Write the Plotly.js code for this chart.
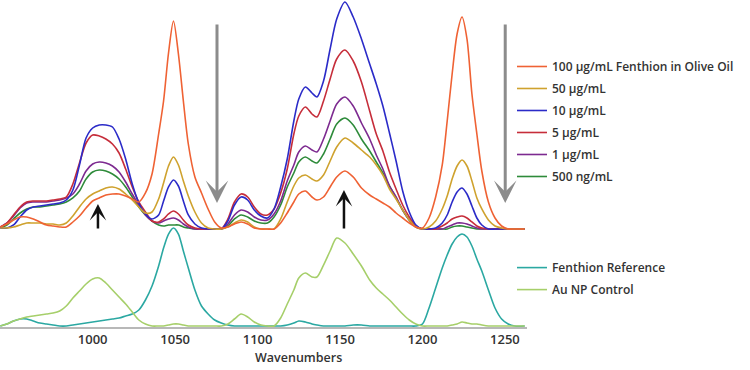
<!DOCTYPE html>
<html>
<head>
<meta charset="utf-8">
<script src="https://cdn.plot.ly/plotly-3.0.1.min.js"></script>
<style>html,body{margin:0;padding:0;background:#fff;}#chart{width:750px;height:370px;}</style>
</head>
<body>
<div id="chart"></div>
<script>
// Wavenumber grid (cm-1)
const wavenumbers = [944,948,952,956,960,964,968,972,976,980,984,988,992,996,1000,1004,1008,1012,1016,1020,1024,1028,1032,1036,1040,1043,1046,1049,1052,1055,1058,1062,1066,1070,1074,1078,1082,1086,1090,1094,1098,1102,1106,1110,1114,1118,1122,1125,1129,1133,1136,1140,1144,1148,1153,1158,1163,1168,1172,1176,1180,1184,1188,1192,1196,1200,1204,1208,1212,1215,1218,1221,1224,1227,1230,1233,1236,1240,1244,1248,1252,1256,1262];

// Upper panel: fenthion in olive oil, SERS intensity (arb.)
const fen100ug = [2,5,9,12,12,10,7,4,3,2,2,7,13,21,28,31,34,35,35,33,30,27,36,55,95,128,176,208,175,128,85,52,36,20,7,1,2,5,7,5,1,0,0,0,6,16,27,35,38,32,29,32,42,52,58,52,41,34,30,26,22,16,11,6,2,1,11,32,64,108,155,195,212,190,135,95,58,27,11,3,0,0,0];
const fen50ug  = [1,1,2,4,6,6,6,5,5,4,6,13,22,30,35,38,41,42,40,35,29,22,16,17,30,46,63,72,64,48,33,17,6,1,0,0,2,6,9,7,2,0,0,0,10,27,43,51,54,50,48,54,68,82,91,86,79,72,64,54,40,30,19,9,2,0,2,8,20,33,50,63,69,63,48,31,20,9,3,1,0,0,0];
const fen10ug  = [1,1,4,12,19,22,23,24,25,26,29,39,64,91,101,104,104,102,90,70,45,26,15,10,14,28,42,49,43,28,14,5,1,0,0,0,8,24,32,29,19,13,11,20,42,70,108,130,142,136,132,148,180,210,227,212,190,165,145,123,96,68,38,17,4,0,0,1,6,14,27,37,41,35,23,11,4,0,0,0,0,0,0];
const fen5ug   = [2,6,14,22,27,28,28,28,29,30,32,45,66,86,94,93,90,85,76,60,42,27,17,8,7,10,15,18,15,9,4,1,0,0,0,0,10,27,35,32,22,15,14,20,36,60,95,113,122,115,112,128,150,170,179,168,147,118,95,78,57,40,24,12,3,0,0,0,3,6,10,12,13,11,7,3,1,0,0,0,0,0,0];
const fen1ug   = [2,6,13,21,26,27,27,27,28,29,31,35,45,58,65,67,66,63,57,47,35,24,14,8,6,8,10,11,9,5,2,0,0,0,0,0,5,14,19,17,12,9,9,15,28,48,64,77,83,79,77,90,108,125,132,123,106,90,74,60,43,32,19,9,2,0,0,0,0,2,4,6,6,5,3,1,0,0,0,0,0,0,0];
const fen500ng = [1,4,10,16,20,22,22,23,24,25,27,31,38,50,57,59,58,55,50,42,32,22,14,8,4,3,4,4,4,2,1,0,0,0,0,0,3,10,14,12,8,6,6,12,24,42,56,67,72,68,66,75,90,105,111,104,90,78,67,56,43,31,19,9,2,0,0,0,0,0,2,3,3,2,1,0,0,0,0,0,0,0,0];

// Lower panel: references
const fenthionRef = [0,2,5,7,7,5,3,2,1,0,0,1,2,3,4,5,6,7,8,10,12,16,26,40,60,78,92,98,92,75,58,36,20,12,6,3,1,0,0,0,0,0,0,0,0,1,3,5,4,2,1,0,0,0,0,1,1,0,0,0,0,0,0,0,0,2,18,38,58,71,82,89,92,89,80,67,55,36,18,7,2,0,0];
const auNpControl = [0,2,5,7,9,10,11,12,13,15,20,28,35,42,47,48,43,36,29,22,14,6,2,0,0,0,1,2,2,1,0,0,0,0,0,0,2,7,12,9,4,1,0,0,8,22,36,48,53,49,49,61,75,88,83,72,60,46,38,32,26,19,12,6,2,0,0,0,0,0,1,2,4,3,2,2,1,0,0,0,0,0,0];

const tickValues = [1000,1050,1100,1150,1200,1250];

const topSeries = [
  {name:'500 ng/mL', y:fen500ng, color:'#2E8B3A', rank:6},
  {name:'1 µg/mL', y:fen1ug, color:'#7D2A90', rank:5},
  {name:'5 µg/mL', y:fen5ug, color:'#C62D3A', rank:4},
  {name:'10 µg/mL', y:fen10ug, color:'#2B2BC8', rank:3},
  {name:'50 µg/mL', y:fen50ug, color:'#CFA22E', rank:2},
  {name:'100 µg/mL Fenthion in Olive Oil', y:fen100ug, color:'#EF6234', rank:1}
];
const bottomSeries = [
  {name:'Fenthion Reference', y:fenthionRef, color:'#2BA8A2', rank:1},
  {name:'Au NP Control', y:auNpControl, color:'#A6CF6A', rank:2}
];

const traces = [];
topSeries.forEach(s => traces.push({
  x: wavenumbers, y: s.y, name: s.name, type:'scatter', mode:'lines',
  xaxis:'x', yaxis:'y2', legend:'legend', legendrank:s.rank, legendgroup:s.name,
  line:{color:s.color, width:1.6, shape:'spline', smoothing:0.8}
}));
bottomSeries.forEach(s => traces.push({
  x: wavenumbers, y: s.y, name: s.name, type:'scatter', mode:'lines',
  xaxis:'x', yaxis:'y', legend:'legend2', legendrank:s.rank, legendgroup:s.name,
  line:{color:s.color, width:1.6, shape:'spline', smoothing:0.8}
}));

const font = {family:'Open Sans, sans-serif', size:12, color:'#333', weight:600};
function arrow(x, tipY, tailY, color, w, size) {
  return {x:x, y:tipY, ax:x, ay:tailY, xref:'x', yref:'y2', axref:'x', ayref:'y2',
          text:'', showarrow:true, arrowhead:3, arrowsize:size, arrowwidth:w, arrowcolor:color};
}

const layout = {
  width:750, height:370,
  margin:{l:0, r:223, t:0, b:43},
  paper_bgcolor:'#fff', plot_bgcolor:'rgba(0,0,0,0)',
  font: font,
  showlegend:true,
  xaxis:{range:[943.8,1263.4], anchor:'y', showline:true, linecolor:'#b8b8b8', linewidth:1.5,
         ticks:'', tickvals:tickValues, tickfont:{family:'Open Sans, sans-serif', size:13, color:'#333', weight:600},
         showgrid:false, zeroline:false},
  yaxis:{domain:[0,0.31], range:[-1,100.4], visible:false},
  yaxis2:{domain:[0.2936,1], range:[-2,229], visible:false},
  legend:{x:0.9715, xanchor:'left', y:0.841, yanchor:'top', bgcolor:'rgba(0,0,0,0)',
          tracegroupgap:3, font:{family:'Open Sans, sans-serif', size:12, color:'#333', weight:600}},
  legend2:{x:0.9715, xanchor:'left', y:0.226, yanchor:'top', bgcolor:'rgba(0,0,0,0)',
          tracegroupgap:3, font:{family:'Open Sans, sans-serif', size:12, color:'#333', weight:600}},
  annotations:[
    arrow(1075.4, 26, 206, '#8c8c8c', 3, 1.25),
    arrow(1250.2, 26, 206, '#8c8c8c', 3, 1.25),
    arrow(1003.2, 25, -1, '#111', 2.5, 1.1),
    arrow(1152.4, 39, -1, '#111', 2.5, 1.1),
    {text:'Wavenumbers', xref:'paper', yref:'paper', x:0.5655, y:-0.0918, xanchor:'center', yanchor:'middle',
     showarrow:false, font:{family:'Open Sans, sans-serif', size:12.5, color:'#333', weight:600}}
  ]
};

Plotly.newPlot('chart', traces, layout, {staticPlot:true, displayModeBar:false});
</script>
</body>
</html>
